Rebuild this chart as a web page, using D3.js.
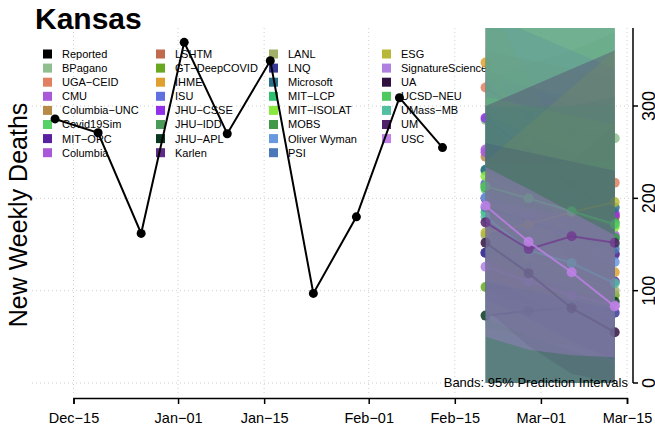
<!DOCTYPE html>
<html>
<head>
<meta charset="utf-8">
<script src="https://cdn.jsdelivr.net/npm/d3@7"></script>
<style>
  body { margin: 0; background: #fff; }
  svg { font-family: "Liberation Sans", Arial, sans-serif; }
</style>
</head>
<body>
<div id="chart"></div>
<script>
// Reported weekly deaths (Saturdays)
const reportedDates = ["2020-12-12", "2020-12-19", "2020-12-26", "2021-01-02", "2021-01-09",
  "2021-01-16", "2021-01-23", "2021-01-30", "2021-02-06", "2021-02-13"];
const reportedValues = [286, 271, 162, 369, 270, 349, 97, 180, 309, 255];

// Forecast target weeks
const forecastDates = ["2021-02-20", "2021-02-27", "2021-03-06", "2021-03-13"];

// models in legend order, with colours
const modelNames = ["BPagano", "UGA-CEID", "CMU", "Columbia-UNC", "Covid19Sim", "MIT-ORC", "Columbia",
  "LSHTM", "GT-DeepCOVID", "IHME", "ISU", "JHU-CSSE", "JHU-IDD", "JHU-APL", "Karlen",
  "LANL", "LNQ", "Microsoft", "MIT-LCP", "MIT-ISOLAT", "MOBS", "Oliver Wyman", "PSI",
  "ESG", "SignatureScience", "UA", "UCSD-NEU", "UMass-MB", "UM", "USC"];
const modelColors = ["#8fbf8f", "#e08060", "#a858d8", "#b88a48", "#58d068", "#5820a0", "#a858d8",
  "#c06a50", "#68a820", "#e0a030", "#6070e0", "#9030e8", "#4a9a58", "#083820", "#602888",
  "#a0b068", "#383898", "#2a7088", "#30c070", "#88e840", "#409848", "#6898e0", "#4a78b8",
  "#b8b838", "#b080e0", "#301040", "#50c860", "#50c0a0", "#502068", "#c080e8"];

// point forecasts (median), per model
const pointVals = [
  [285, 278, 272, 265], [320, 290, 252, 217], [253, 228, 205, 184], [245, 222, 200, 180],
  [210, 190, 170, 150], [141, 130, 120, 110], [250, 220, 190, 160], [215, 200, 190, 180],
  [104, 100, 98, 95], [347, 262, 180, 120], [216, 190, 165, 139], [287, 250, 215, 182],
  [230, 215, 195, 174], [73, 78, 82, 88], [200, 180, 160, 140], [160, 136, 117, 100],
  [141, 125, 100, 76], [231, 212, 200, 190], [185, 172, 162, 157], [224, 200, 185, 169],
  [212, 195, 176, 157], [201, 180, 155, 131], [190, 175, 160, 145], [163, 172, 185, 196],
  [126, 110, 95, 84], [152, 119, 81, 55], [213, 200, 186, 172], [180, 144, 130, 108],
  [174, 145, 159, 152], [192, 153, 120, 83]];
// 95% prediction interval lower bounds
const lowerVals = [
  [240, 220, 200, 185], [200, 160, 120, 90], [180, 150, 120, 95], [150, 120, 95, 70],
  [160, 130, 100, 80], [100, 85, 70, 55], [170, 130, 95, 65], [0, 0, 0, 0],
  [60, 50, 40, 30], [300, 210, 130, 80], [150, 120, 90, 60], [200, 160, 120, 90],
  [0, 0, 0, 0], [0, 0, 0, 0], [150, 120, 90, 70], [120, 90, 70, 50],
  [90, 70, 45, 25], [170, 140, 120, 100], [140, 120, 100, 90], [150, 120, 100, 80],
  [140, 110, 90, 70], [150, 120, 90, 65], [0, 0, 0, 0], [110, 100, 90, 80],
  [70, 50, 35, 20], [80, 40, 10, 0], [0, 0, 0, 0], [0, 0, 0, 0],
  [0, 0, 0, 0], [50, 36, 30, 28]];
// 95% prediction interval upper bounds
const upperVals = [
  [330, 345, 360, 380], [460, 440, 420, 400], [330, 320, 310, 300], [360, 350, 340, 330],
  [260, 250, 240, 230], [190, 185, 180, 175], [340, 320, 300, 290], [440, 470, 500, 520],
  [160, 170, 180, 190], [420, 330, 250, 180], [290, 270, 250, 230], [400, 380, 360, 340],
  [440, 470, 500, 530], [160, 200, 240, 280], [260, 250, 240, 230], [210, 200, 190, 180],
  [200, 190, 170, 150], [300, 295, 300, 310], [240, 240, 240, 240], [310, 300, 290, 280],
  [300, 300, 300, 300], [260, 250, 240, 230], [420, 440, 460, 480], [240, 280, 320, 360],
  [200, 190, 180, 170], [260, 250, 240, 230], [430, 480, 520, 560], [390, 400, 420, 440],
  [300, 320, 340, 360], [234, 210, 185, 160]];

const xTickDates = ["2020-12-15", "2021-01-01", "2021-01-15", "2021-02-01", "2021-02-15", "2021-03-01", "2021-03-15"];
const yTicks = [0, 100, 200, 300];

const W = 655, H = 433;
const parse = d3.timeParse("%Y-%m-%d");
const fmt = d3.timeFormat("%b-%d");

const svg = d3.select("#chart").append("svg")
  .attr("width", W).attr("height", H);

// scales
const x = d3.scaleTime()
  .domain([parse("2020-12-15"), parse("2021-03-15")])
  .range([73.5, 627]);
const y = d3.scaleLinear()
  .domain([0, 384.5])
  .range([383, 28]);

const panel = { left: 32, right: 630, top: 28, bottom: 395 };

// clip for the bands
svg.append("defs").append("clipPath").attr("id", "clip")
  .append("rect")
  .attr("x", panel.left).attr("y", panel.top)
  .attr("width", panel.right - panel.left).attr("height", y(0) - panel.top + 1);

// grid lines, dotted
const grid = svg.append("g").attr("stroke", "#d0d0d0").attr("stroke-dasharray", "1,3").attr("stroke-width", 1);
grid.selectAll(".gv").data(xTickDates).enter().append("line")
  .attr("x1", d => x(parse(d))).attr("x2", d => x(parse(d)))
  .attr("y1", panel.top).attr("y2", panel.bottom);
grid.selectAll(".gh").data(yTicks).enter().append("line")
  .attr("x1", panel.left).attr("x2", panel.right)
  .attr("y1", d => y(d)).attr("y2", d => y(d));

// title
svg.append("text")
  .attr("x", 35).attr("y", 29)
  .style("font-size", "30px").style("font-weight", "bold")
  .text("Kansas");

// y axis title
svg.append("text")
  .attr("transform", "translate(27,215) rotate(-90)")
  .attr("text-anchor", "middle")
  .style("font-size", "25px")
  .text("New Weekly Deaths");

// legend
const legendItems = [{ name: "Reported", color: "#000" }]
  .concat(modelNames.map((n, i) => ({ name: n, color: modelColors[i] })));
const legColX = [43, 156, 269, 382];
const legend = svg.append("g");
legendItems.forEach((d, i) => {
  const col = Math.floor(i / 8), row = i % 8;
  const gx = legColX[col], gy = 54 + row * 14.1;
  legend.append("rect")
    .attr("x", gx).attr("y", gy - 4.5)
    .attr("width", 9).attr("height", 9)
    .attr("fill", d.color);
  legend.append("text")
    .attr("x", gx + 19).attr("y", gy)
    .attr("dy", "0.36em")
    .style("font-size", "11px")
    .text(d.name.replace("-", "\u2212"));
});

// reported line
const fDates = forecastDates.map(parse);
const line = d3.line().x(d => x(d[0])).y(d => y(d[1]));
const reported = reportedDates.map((d, i) => [parse(d), reportedValues[i]]);
svg.append("path")
  .datum(reported)
  .attr("d", line)
  .attr("fill", "none").attr("stroke", "#000").attr("stroke-width", 2);
svg.selectAll(".rep").data(reported).enter().append("circle")
  .attr("cx", d => x(d[0])).attr("cy", d => y(d[1]))
  .attr("r", 4.5).attr("fill", "#000");

// forecast bands, lines, points
const area = d3.area()
  .x(d => x(d.date))
  .y0(d => y(d.lo))
  .y1(d => y(d.hi));
const fc = svg.append("g");
modelNames.forEach((m, i) => {
  const rows = fDates.map((dt, k) => ({ date: dt, lo: lowerVals[i][k], hi: upperVals[i][k], v: pointVals[i][k] }));
  fc.append("path")
    .datum(rows)
    .attr("clip-path", "url(#clip)")
    .attr("d", area)
    .attr("fill", modelColors[i])
    .attr("fill-opacity", 0.3);
  fc.append("path")
    .datum(rows)
    .attr("d", d3.line().x(d => x(d.date)).y(d => y(d.v)))
    .attr("fill", "none")
    .attr("stroke", modelColors[i])
    .attr("stroke-opacity", 0.8)
    .attr("stroke-width", 2);
  fc.selectAll(null).data(rows).enter().append("circle")
    .attr("cx", d => x(d.date)).attr("cy", d => y(d.v))
    .attr("r", 5)
    .attr("fill", modelColors[i])
    .attr("fill-opacity", 0.85);
});

// bands note
svg.append("text")
  .attr("x", 628).attr("y", 387)
  .attr("text-anchor", "end")
  .style("font-size", "13px")
  .text("Bands: 95% Prediction Intervals");

// bottom axis
const xAxis = d3.axisBottom(x)
  .tickValues(xTickDates.map(parse))
  .tickFormat(d => fmt(d).replace("-", "\u2212"))
  .tickSizeOuter(0)
  .tickSize(6)
  .tickPadding(9);
const gx = svg.append("g")
  .attr("transform", "translate(0,398)")
  .call(xAxis)
  .attr("font-family", null)
  .attr("font-size", null);
gx.select(".domain").attr("stroke-width", 1.5);
gx.selectAll(".tick line").attr("stroke-width", 1.5);
gx.selectAll("text").style("font-size", "14.5px");

// right axis
const gy = svg.append("g").attr("transform", "translate(633,0)");
gy.append("line")
  .attr("x1", 0).attr("x2", 0)
  .attr("y1", y(0)).attr("y2", panel.top)
  .attr("stroke", "#000").attr("stroke-width", 1.5);
gy.selectAll(".yt").data(yTicks).enter().append("line")
  .attr("x1", 0).attr("x2", 5)
  .attr("y1", d => y(d)).attr("y2", d => y(d))
  .attr("stroke", "#000").attr("stroke-width", 1.5);
gy.selectAll(".yl").data(yTicks).enter().append("text")
  .attr("transform", d => `translate(9,${y(d)}) rotate(-90)`)
  .attr("text-anchor", "middle")
  .attr("dy", "0.72em")
  .style("font-size", "18px")
  .text(d => d);
</script>
</body>
</html>
